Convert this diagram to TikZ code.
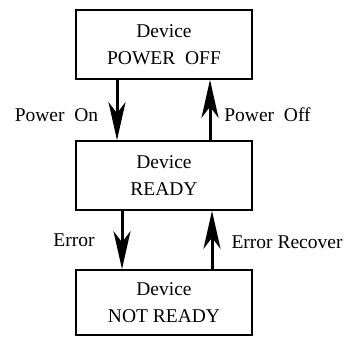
\documentclass[tikz,border=0pt]{standalone}
\usepackage{fontspec}
\setmainfont{Liberation Serif}
\usetikzlibrary{arrows.meta}

\tikzset{
  statebox/.style={draw, line width=1.6pt, minimum width=176pt, align=center,
    font=\fontsize{19.5}{27}\selectfont},
  translabel/.style={font=\fontsize{19.5}{24}\selectfont},
  bigarrow/.style={line width=3pt,
    -{Stealth[length=38pt, width=17pt, inset=11pt]}}
}

\begin{document}
\begin{tikzpicture}[x=1pt, y=-1pt]
			
			\useasboundingbox (0,0) rectangle (346,337);
			
			% the three device states
			\node[statebox, minimum height=69pt] (off)   at (164,44.5)  {Device\\POWER\ \ OFF};
			\node[statebox, minimum height=69pt] (ready) at (164,175.5) {Device\\READY};
			\node[statebox, minimum height=65pt] (nrdy)  at (164,302.5) {Device\\NOT READY};
			
			% power on / power off
			\draw[bigarrow] ([xshift=-47pt]off.south) -- ([xshift=-47pt]ready.north);
			\draw[bigarrow] ([xshift=46pt]ready.north) -- ([xshift=46pt]off.south);
			\node[translabel] (pon)  at (56.5,115)  {Power\ \ On};
			\node[translabel] (poff) at (267.5,115) {Power\ \ Off};
			
			% error / error recover
			\draw[bigarrow] ([xshift=-42pt]ready.south) -- ([xshift=-42pt]nrdy.north);
			\draw[bigarrow] ([xshift=48pt]nrdy.north) -- ([xshift=48pt]ready.south);
			\node[translabel] (err) at (74,240)  {Error};
			\node[translabel] (rec) at (287,242) {Error Recover};
			
		\end{tikzpicture}
\end{document}
